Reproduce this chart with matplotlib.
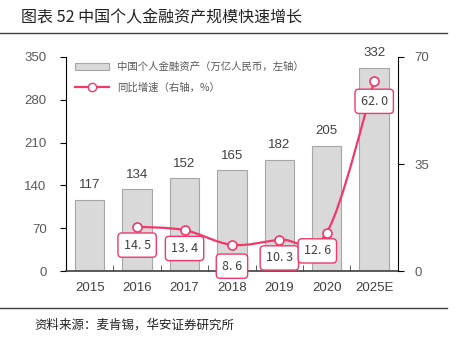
import matplotlib.pyplot as plt
import numpy as np
from matplotlib.path import Path
from matplotlib.patches import PathPatch
from matplotlib.lines import Line2D
from matplotlib.patches import Patch

plt.rcParams['font.family'] = ['Liberation Sans', 'Noto Sans CJK SC', 'DejaVu Sans']

years = ['2015', '2016', '2017', '2018', '2019', '2020', '2025E']
assets = [117, 134, 152, 165, 182, 205, 332]
growth = [14.5, 13.4, 8.6, 10.3, 12.6, 62.0]   # 2016 .. 2025E
growth_labels = ['14.5', '13.4', '8.6', '10.3', '12.6', '62.0']

pink = '#f0386b'
cjk = ['Noto Sans CJK SC', 'DejaVu Sans']

fig = plt.figure(figsize=(4.6, 3.41), dpi=100)
ax = fig.add_axes([0.1435, 0.205, 0.7215, 0.628])
x = np.arange(len(years))
ax.bar(x, assets, width=0.62, color='#d9d9d9', edgecolor='#a6a6a6', linewidth=0.8, zorder=2)
for xi, v in zip(x, assets):
    ax.text(xi, v + 14, str(v), ha='center', va='bottom', fontsize=9.5, color='#404040')

ax.set_ylim(0, 350)
ax.set_yticks([0, 70, 140, 210, 280, 350])
ax.set_xlim(-0.5, 6.5)
ax.set_xticks(x)
ax.set_xticklabels(years)
ax.set_xticks(np.arange(-0.5, 7, 1), minor=True)
ax.tick_params(axis='x', which='major', length=0, pad=8, labelsize=9.5, labelcolor='#404040')
ax.tick_params(axis='x', which='minor', direction='in', length=4, color='#404040')
ax.tick_params(axis='y', length=4, labelsize=9.5, labelcolor='#595959', pad=10)
ax.spines['top'].set_visible(False)
ax.spines['right'].set_visible(False)
ax.spines['bottom'].set_color('#404040')
ax.spines['bottom'].set_linewidth(1.2)

ax2 = ax.twinx()
ax2.set_ylim(0, 70)
ax2.set_yticks([0, 35, 70])
ax2.tick_params(axis='y', length=4, labelsize=9.5, labelcolor='#595959', pad=8)
ax2.spines['top'].set_visible(False)
ax2.spines['left'].set_visible(False)
ax2.spines['bottom'].set_visible(False)

# smooth line through growth points (cubic bezier, catmull-rom style)
gx = x[1:].astype(float)
gy = np.array(growth)
verts = [(gx[0], gy[0])]
codes = [Path.MOVETO]
for i in range(len(gx) - 1):
    p0 = (gx[max(i - 1, 0)], gy[max(i - 1, 0)])
    p1 = (gx[i], gy[i])
    p2 = (gx[i + 1], gy[i + 1])
    p3 = (gx[min(i + 2, len(gx) - 1)], gy[min(i + 2, len(gx) - 1)])
    t = 0.5 / 3
    c1 = (p1[0] + (p2[0] - p0[0]) * t, p1[1] + (p2[1] - p0[1]) * t)
    c2 = (p2[0] - (p3[0] - p1[0]) * t, p2[1] - (p3[1] - p1[1]) * t)
    verts += [c1, c2, p2]
    codes += [Path.CURVE4] * 3
ax2.add_patch(PathPatch(Path(verts, codes), facecolor='none', edgecolor=pink, linewidth=1.6, zorder=3))
ax2.plot(gx, gy, linestyle='none', marker='o', markersize=6.5, markerfacecolor='white',
         markeredgecolor=pink, markeredgewidth=1.2, zorder=4)

offsets = [(0, -6), (0, -6), (0, -7), (0, -6), (-0.2, -6), (0, -6.5)]
for xi, v, lab, (dx, dy) in zip(gx, gy, growth_labels, offsets):
    ax2.text(xi + dx, v + dy, lab.replace('.', '. '), ha='center', va='center', fontsize=9,
             color='#404040', family=cjk, zorder=5,
             bbox=dict(boxstyle='round,pad=0.45,rounding_size=0.3', facecolor='white',
                       edgecolor=pink, linewidth=1.0))

handles = [Patch(facecolor='#d9d9d9', edgecolor='#a6a6a6', linewidth=0.8),
           Line2D([0], [0], color=pink, lw=1.6, marker='o', markersize=6,
                  markerfacecolor='white', markeredgecolor=pink)]
leg = ax2.legend(handles, ['中国个人金融资产（万亿人民币，左轴）', '同比增速（右轴，%）'],
                 loc='upper left', bbox_to_anchor=(0.0, 1.02), frameon=False,
                 prop={'family': cjk, 'size': 7.5}, labelcolor='#595959',
                 handlelength=3.2, handleheight=0.6, labelspacing=1.0)

fig.text(0.045, 0.948, '图表 52 中国个人金融资产规模快速增长', fontsize=11.5,
         family=cjk, fontweight='medium', color='#222222', va='center')
fig.add_artist(Line2D([0, 0.972], [0.903, 0.903], color='#404040', lw=1.0))
fig.add_artist(Line2D([0, 0.972], [0.098, 0.098], color='#404040', lw=1.0))
fig.text(0.075, 0.047, '资料来源：麦肯锡，华安证券研究所', fontsize=9, family=cjk,
         color='#222222', va='center')

fig.savefig('out.png', dpi=100)
